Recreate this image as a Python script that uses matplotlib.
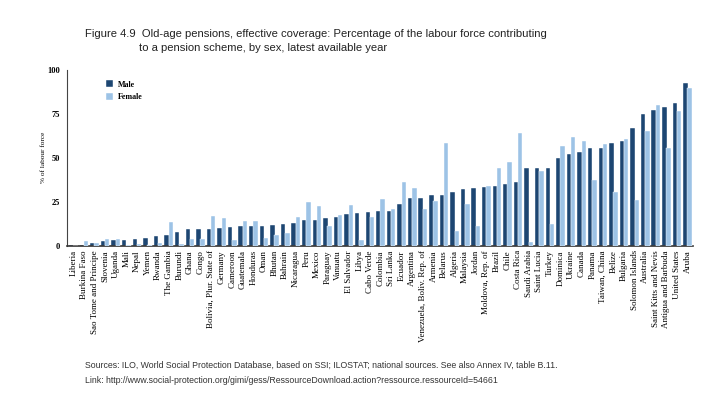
import matplotlib
matplotlib.use('Agg')
import matplotlib.pyplot as plt
import numpy as np

# values (% of labour force)
countries = [
    'Liberia', 'Burkina Faso', 'Sao Tome and Principe', 'Slovenia', 'Uganda',
    'Mali', 'Nepal', 'Yemen', 'Rwanda', 'The Gambia', 'Burundi', 'Ghana',
    'Congo', 'Bolivia, Plur. State of', 'Germany', 'Cameroon', 'Guatemala',
    'Honduras', 'Oman', 'Bhutan', 'Bahrain', 'Nicaragua', 'Peru', 'Mexico',
    'Paraguay', 'Vanuatu', 'El Salvador', 'Libya', 'Cabo Verde', 'Colombia',
    'Sri Lanka', 'Ecuador', 'Argentina', 'Venezuela, Boliv. Rep. of',
    'Armenia', 'Belarus', 'Algeria', 'Malaysia', 'Jordan', 'Moldova, Rep. of',
    'Brazil', 'Chile', 'Costa Rica', 'Saudi Arabia', 'Saint Lucia', 'Turkey',
    'Dominica', 'Ukraine', 'Canada', 'Panama', 'Taiwan, China', 'Belize',
    'Bulgaria', 'Solomon Islands', 'Australia', 'Saint Kitts and Nevis',
    'Antigua and Barbuda', 'United States', 'Aruba',
]
male = [
    0.4, 0.6, 1.9, 2.9, 3.6, 3.4, 4.1, 4.6, 5.7, 6.4, 8.0, 9.6,
    9.6, 9.6, 10.4, 10.9, 11.5, 11.5, 11.5, 12.1, 12.6, 13.2, 14.7, 14.7,
    16.0, 16.6, 18.1, 18.7, 19.2, 19.8, 19.8, 23.8, 27.4, 27.4,
    28.9, 28.9, 30.6, 32.3, 33.0, 33.6, 34.1, 35.3, 36.2, 44.3, 44.3, 44.3,
    50.0, 52.1, 53.4, 55.3, 55.3, 58.5, 59.6, 66.6, 74.7, 77.0, 78.5, 81.3, 92.1,
]
female = [
    0.2, 2.9, 1.9, 4.1, 4.1, 0.5, 1.1, 0.4, 1.9, 13.7, 1.1, 4.0,
    4.0, 17.2, 16.0, 3.4, 14.1, 14.1, 4.7, 6.4, 7.5, 16.6, 24.9, 22.8,
    11.5, 17.7, 23.2, 3.4, 16.6, 26.8, 20.9, 36.2, 33.0, 20.9,
    25.5, 58.5, 8.5, 23.8, 11.5, 34.0, 44.3, 47.7, 64.1, 2.5, 42.4, 12.3,
    56.8, 61.9, 59.6, 37.4, 57.7, 30.7, 60.9, 26.0, 65.3, 79.8, 55.6, 76.4, 89.8,
]

male_color = '#1d4672'
female_color = '#9dc3e6'
serif = ['Liberation Serif', 'DejaVu Serif']
sans = ['Liberation Sans', 'DejaVu Sans']

fig = plt.figure(figsize=(7.04, 3.94), dpi=100)
ax = fig.add_axes([0.0952, 0.3756, 0.889, 0.448])

x = np.arange(len(countries))
w = 0.42
ax.bar(x - 0.2, male, w, color=male_color, edgecolor='white', linewidth=0.3,
       label='Male', zorder=2)
ax.bar(x + 0.2, female, w, color=female_color, edgecolor='white', linewidth=0.3,
       label='Female', zorder=3)

ax.set_xlim(-0.6, 58.5)
ax.set_ylim(0, 100)
ax.set_yticks([0, 25, 50, 75, 100])
ax.set_xticks(x)
ax.set_xticklabels(countries, rotation=90, family=serif, fontsize=6.5)
for lbl in ax.get_yticklabels():
    lbl.set_family(serif)
    lbl.set_fontsize(6)
    lbl.set_fontweight('bold')
ax.tick_params(axis='y', length=0, pad=5)
ax.tick_params(axis='x', length=0, pad=3)

for side in ['top', 'right']:
    ax.spines[side].set_visible(False)
ax.spines['left'].set_color('#444444')
ax.spines['left'].set_linewidth(0.8)
ax.spines['bottom'].set_color('#333333')
ax.spines['bottom'].set_linewidth(1.2)

ax.set_ylabel('% of labour force', family=serif, fontsize=5.2, labelpad=1)

leg = ax.legend(loc='upper left', bbox_to_anchor=(0.05, 0.98), frameon=False,
                prop={'family': serif, 'size': 5.8, 'weight': 'bold'},
                handlelength=0.9, handleheight=1.0, labelspacing=0.55,
                handletextpad=0.6)

fig.text(0.121, 0.905, 'Figure 4.9  Old-age pensions, effective coverage: Percentage of the labour force contributing',
         family=sans, fontsize=8.1, color='#222222', va='baseline')
fig.text(0.197, 0.87, 'to a pension scheme, by sex, latest available year',
         family=sans, fontsize=8.1, color='#222222', va='baseline')

fig.text(0.121, 0.067, 'Sources: ILO, World Social Protection Database, based on SSI; ILOSTAT; national sources. See also Annex IV, table B.11.',
         family=sans, fontsize=6.3, color='#333333', va='baseline')
fig.text(0.121, 0.027, 'Link: http://www.social-protection.org/gimi/gess/RessourceDownload.action?ressource.ressourceId=54661',
         family=sans, fontsize=6.3, color='#333333', va='baseline')

fig.savefig('out.png', dpi=100, facecolor='white')
